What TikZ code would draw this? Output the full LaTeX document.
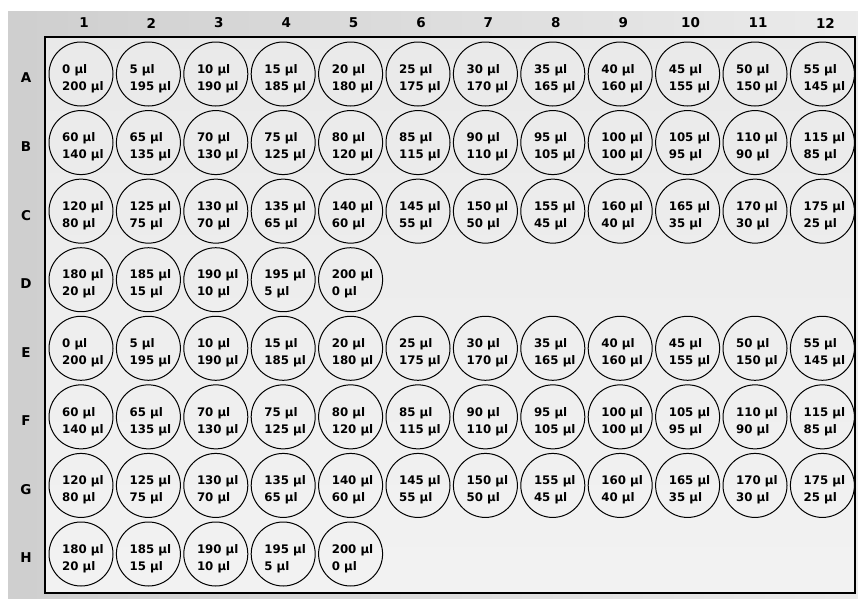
\documentclass[tikz,border=0pt]{standalone}
\usepackage{fontspec}
\setmainfont{DejaVu Sans}
\begin{document}
\begin{tikzpicture}[x=1pt,y=-1pt,
  well/.style={circle,draw=black,line width=1pt,minimum size=64pt,inner sep=0pt},
  welltext/.style={anchor=west,align=left,inner sep=0pt,text=black,font=\bfseries\fontsize{11.8}{17}\selectfont},
  lab/.style={inner sep=0pt,text=black,font=\bfseries\fontsize{13.5}{15}\selectfont}]
\useasboundingbox (0,0) rectangle (858,598);
\fill[white] (0,0) rectangle (858,598);
\shade[left color=gray!38,right color=gray!16] (8,11) rectangle (858,598);
\shade[top color=gray!17,bottom color=gray!10] (45,37) rectangle (855,593);
\draw[line width=1.4pt] (45,37) rectangle (855,593);
\foreach \c in {1,...,12}{
  \node[lab] (col\c) at ({81+(\c-1)*67.4+3},23) {\c};
}
\foreach \r/\L in {0/A,1/B,2/C,3/D,4/E,5/F,6/G,7/H}{
  \node[lab] (row\L) at (26,{74+\r*68.57+4}) {\L};
  \foreach \c in {1,...,12}{
    \pgfmathtruncatemacro{\i}{mod(\r,4)*12+\c-1}
    \ifnum\i<41
      \pgfmathtruncatemacro{\a}{5*\i}
      \pgfmathtruncatemacro{\b}{200-5*\i}
      \pgfmathsetmacro{\cx}{81+(\c-1)*67.4}
      \pgfmathsetmacro{\cy}{74+\r*68.57}
      \node[well] (\L\c) at (\cx,\cy) {};
      \node[welltext] (\L\c t) at ({\cx-19},{\cy+4.5}) {\a\ µl\\\b\ µl};
    \fi
  }
}
\end{tikzpicture}
\end{document}
